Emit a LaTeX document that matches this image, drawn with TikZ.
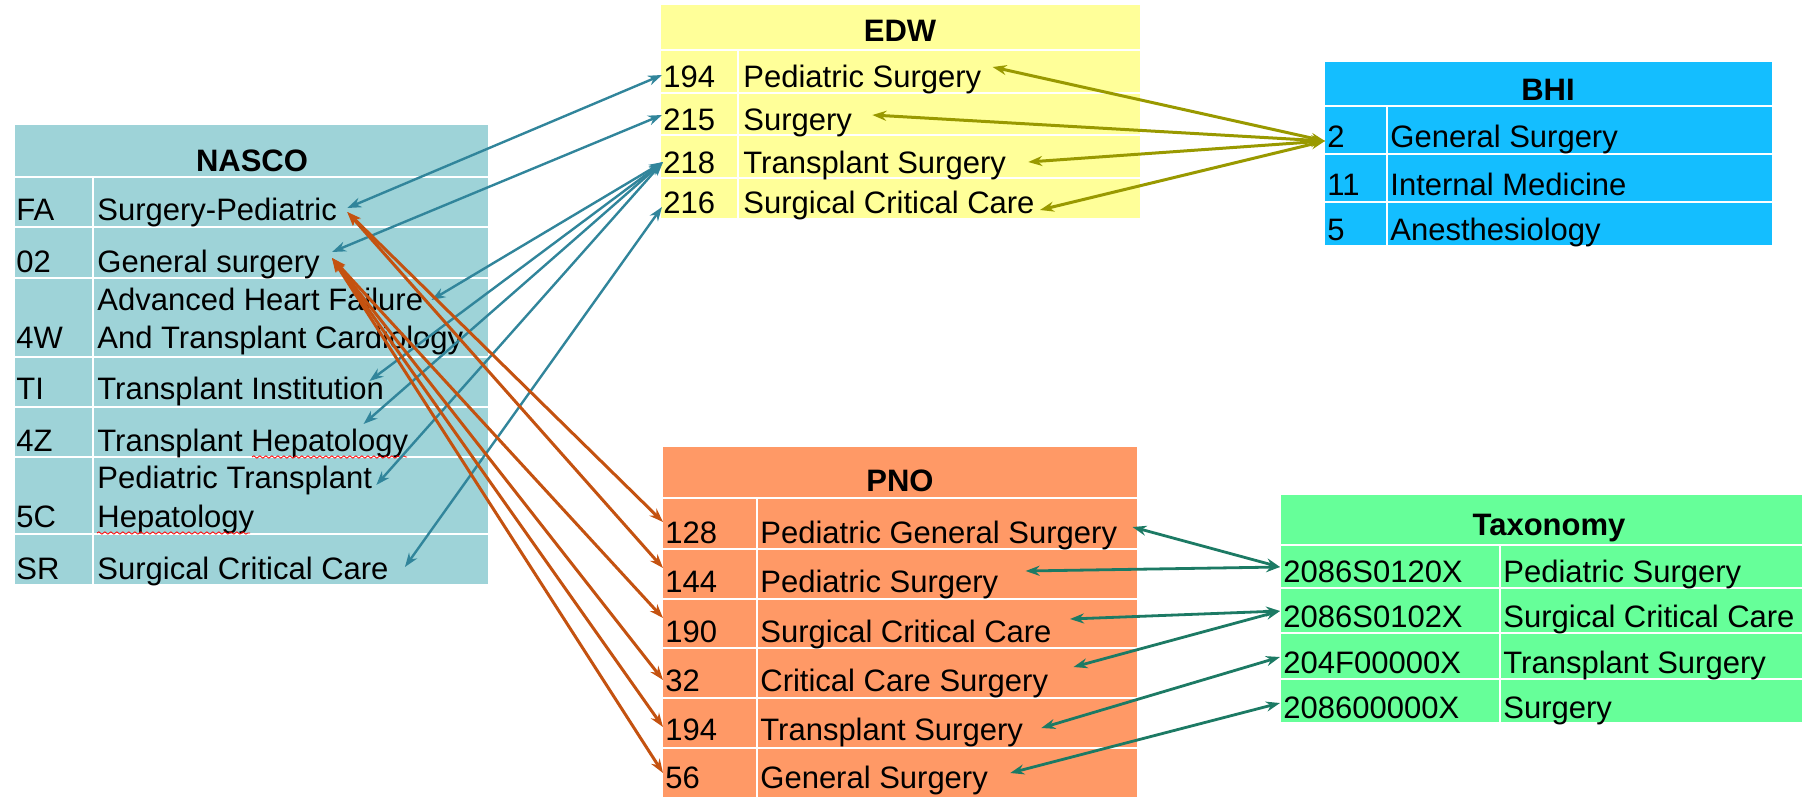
\documentclass[tikz,border=0pt]{standalone}
\usepackage{fontspec}
\setmainfont{Liberation Sans}
\usepackage{tikz}
\usetikzlibrary{arrows.meta, decorations.pathmorphing}
\definecolor{nasco}{RGB}{158, 211, 216}
\definecolor{edw}{RGB}{255, 255, 153}
\definecolor{bhi}{RGB}{20, 190, 255}
\definecolor{pno}{RGB}{255, 153, 102}
\definecolor{taxo}{RGB}{102, 255, 153}
\definecolor{tealline}{RGB}{49, 133, 155}
\definecolor{rustline}{RGB}{196, 82, 16}
\definecolor{oliveline}{RGB}{153, 153, 0}
\definecolor{pineline}{RGB}{28, 122, 100}

\begin{document}
\begin{tikzpicture}[
   x=0.5pt, y=-0.5pt,
   celltext/.style={anchor=base west, inner sep=0, font=\fontsize{15.5}{18}\selectfont},
   headtext/.style={anchor=base, inner sep=0, font=\fontsize{15.5}{18}\selectfont\bfseries},
   rowline/.style={white, line width=1pt},
   spellmark/.style={red, line width=0.4pt, decorate,
                     decoration={snake, amplitude=0.6pt, segment length=3pt}}
  ]

  \useasboundingbox (0,0) rectangle (1802,797);

  % NASCO
  \fill[nasco] (15,125) rectangle (488,584);
  \foreach \y in {177,227,278,357,407,457,534} {
    \draw[rowline] (15,\y) -- (488,\y);
  }
  \draw[rowline] (93,177) -- (93,584);

  \node (tHead) at (252,171) [headtext] {NASCO};
  \node (tcFA) at (16,220) [celltext] {FA};
  \node (tnFA) at (97,220) [celltext] {Surgery-Pediatric};
  \node (tc02) at (16,272) [celltext] {02};
  \node (tn02) at (97,272) [celltext] {General surgery};
  \node (tc4W) at (16,348) [celltext] {4W};
  \node (tn4Wa) at (97,310) [celltext] {Advanced Heart Failure};
  \node (tn4Wb) at (97,348) [celltext] {And Transplant Cardiology};
  \node (tcTI) at (16,399) [celltext] {TI};
  \node (tnTI) at (97,399) [celltext] {Transplant Institution};
  \node (tc4Z) at (16,451) [celltext] {4Z};
  \node (tn4Z) at (97,451) [celltext] {Transplant Hepatology};
  \node (tc5C) at (16,527) [celltext] {5C};
  \node (tn5Ca) at (97,488) [celltext] {Pediatric Transplant};
  \node (tn5Cb) at (97,527) [celltext] {Hepatology};
  \node (tcSR) at (16,579) [celltext] {SR};
  \node (tnSR) at (97,579) [celltext] {Surgical Critical Care};

  \draw[spellmark] (252,457) -- (407,457);
  \draw[spellmark] (97,533) -- (250,533);

  % EDW
  \fill[edw] (661,5) rectangle (1140,218);
  \foreach \y in {50,93,135,178} {
    \draw[rowline] (661,\y) -- (1140,\y);
  }
  \draw[rowline] (738,50) -- (738,218);

  \node (eHead) at (900,42) [headtext] {EDW};
  \node (ec194) at (663,88) [celltext] {194};
  \node (en194) at (743,88) [celltext] {Pediatric Surgery};
  \node (ec215) at (663,130) [celltext] {215};
  \node (en215) at (743,130) [celltext] {Surgery};
  \node (ec218) at (663,173) [celltext] {218};
  \node (en218) at (743,173) [celltext] {Transplant Surgery};
  \node (ec216) at (663,213) [celltext] {216};
  \node (en216) at (743,213) [celltext] {Surgical Critical Care};

  % BHI
  \fill[bhi] (1325,62) rectangle (1772,245);
  \foreach \y in {106,154,202} {
    \draw[rowline] (1325,\y) -- (1772,\y);
  }
  \draw[rowline] (1387,106) -- (1387,245);

  \node (bHead) at (1548,100) [headtext] {BHI};
  \node (bc2) at (1327,148) [celltext] {2};
  \node (bn2) at (1390,148) [celltext] {General Surgery};
  \node (bc11) at (1327,195) [celltext] {11};
  \node (bn11) at (1390,195) [celltext] {Internal Medicine};
  \node (bc5) at (1327,240) [celltext] {5};
  \node (bn5) at (1390,240) [celltext] {Anesthesiology};

  % PNO
  \fill[pno] (663,447) rectangle (1137,797);
  \foreach \y in {498,549,599,648,698,748} {
    \draw[rowline] (663,\y) -- (1137,\y);
  }
  \draw[rowline] (757,498) -- (757,797);

  \node (pHead) at (900,491) [headtext] {PNO};
  \node (pc128) at (665,543) [celltext] {128};
  \node (pn128) at (760,543) [celltext] {Pediatric General Surgery};
  \node (pc144) at (665,592) [celltext] {144};
  \node (pn144) at (760,592) [celltext] {Pediatric Surgery};
  \node (pc190) at (665,642) [celltext] {190};
  \node (pn190) at (760,642) [celltext] {Surgical Critical Care};
  \node (pc32) at (665,691) [celltext] {32};
  \node (pn32) at (760,691) [celltext] {Critical Care Surgery};
  \node (pc194) at (665,740) [celltext] {194};
  \node (pn194) at (760,740) [celltext] {Transplant Surgery};
  \node (pc56) at (665,788) [celltext] {56};
  \node (pn56) at (760,788) [celltext] {General Surgery};

  % Taxonomy
  \fill[taxo] (1281,495) rectangle (1802,722);
  \foreach \y in {545,588,633,679} {
    \draw[rowline] (1281,\y) -- (1802,\y);
  }
  \draw[rowline] (1500,545) -- (1500,722);

  \node (xHead) at (1549,535) [headtext] {Taxonomy};
  \node (xcA) at (1283,582) [celltext] {2086S0120X};
  \node (xnA) at (1503,582) [celltext] {Pediatric Surgery};
  \node (xcB) at (1283,627) [celltext] {2086S0102X};
  \node (xnB) at (1503,627) [celltext] {Surgical Critical Care};
  \node (xcC) at (1283,673) [celltext] {204F00000X};
  \node (xnC) at (1503,673) [celltext] {Transplant Surgery};
  \node (xcD) at (1283,718) [celltext] {208600000X};
  \node (xnD) at (1503,718) [celltext] {Surgery};

  % NASCO <-> EDW
  \foreach \B/\bx/\by/\E/\ex/\ey in {tnFA/10/-12/ec194/-1/-13, tn02/12/-20/ec215/-1/-15,
      tn4Wa/8/-10/ec218/0/-11, tnTI/-15/-18/ec218/0/-11, tn4Z/-45/-27/ec218/0/-11,
      tn5Ca/4/-3/ec218/0/-11, tnSR/16/-12/ec216/-1/-6} {
    \draw[<->, >={Stealth[length=7pt, width=5pt]}, color=tealline, line width=1.2pt]
      ([shift={(\bx,\by)}]\B.base east) -- ([shift={(\ex,\ey)}]\E.base west);
  }

  % EDW <-> BHI
  \foreach \B/\bx/\by/\E/\ex/\ey in {en194/11/-21/bc2/-2/-7, en215/20/-15/bc2/-2/-7,
      en218/22/-11/bc2/-2/-7, en216/5/-3/bc2/-2/-7} {
    \draw[<->, >={Stealth[length=7pt, width=5pt]}, color=oliveline, line width=1.5pt]
      ([shift={(\bx,\by)}]\B.base east) -- ([shift={(\ex,\ey)}]\E.base west);
  }

  % NASCO <-> PNO
  \foreach \B/\bx/\by/\E/\ex/\ey in {tnFA/10/-8/pc128/-2/-21, tnFA/10/-8/pc144/-2/-24,
      tn02/12/-14/pc190/-2/-24, tn02/12/-14/pc32/-2/-11, tn02/12/-14/pc194/-2/-13,
      tn02/12/-14/pc56/-2/-15} {
    \draw[<->, >={Stealth[length=7pt, width=5pt]}, color=rustline, line width=1.5pt]
      ([shift={(\bx,\by)}]\B.base east) -- ([shift={(\ex,\ey)}]\E.base west);
  }

  % PNO <-> Taxonomy
  \foreach \B/\bx/\by/\E/\ex/\ey in {pn128/15/-16/xcA/-3/-15, pn144/27/-21/xcA/-3/-15,
      pn190/18/-23/xcB/-3/-16, pn32/25/-24/xcB/-3/-16, pn194/18/-12/xcC/-3/-16,
      pn56/22/-15/xcD/-3/-15} {
    \draw[<->, >={Stealth[length=7pt, width=5pt]}, color=pineline, line width=1.4pt]
      ([shift={(\bx,\by)}]\B.base east) -- ([shift={(\ex,\ey)}]\E.base west);
  }

\end{tikzpicture}
\end{document}
